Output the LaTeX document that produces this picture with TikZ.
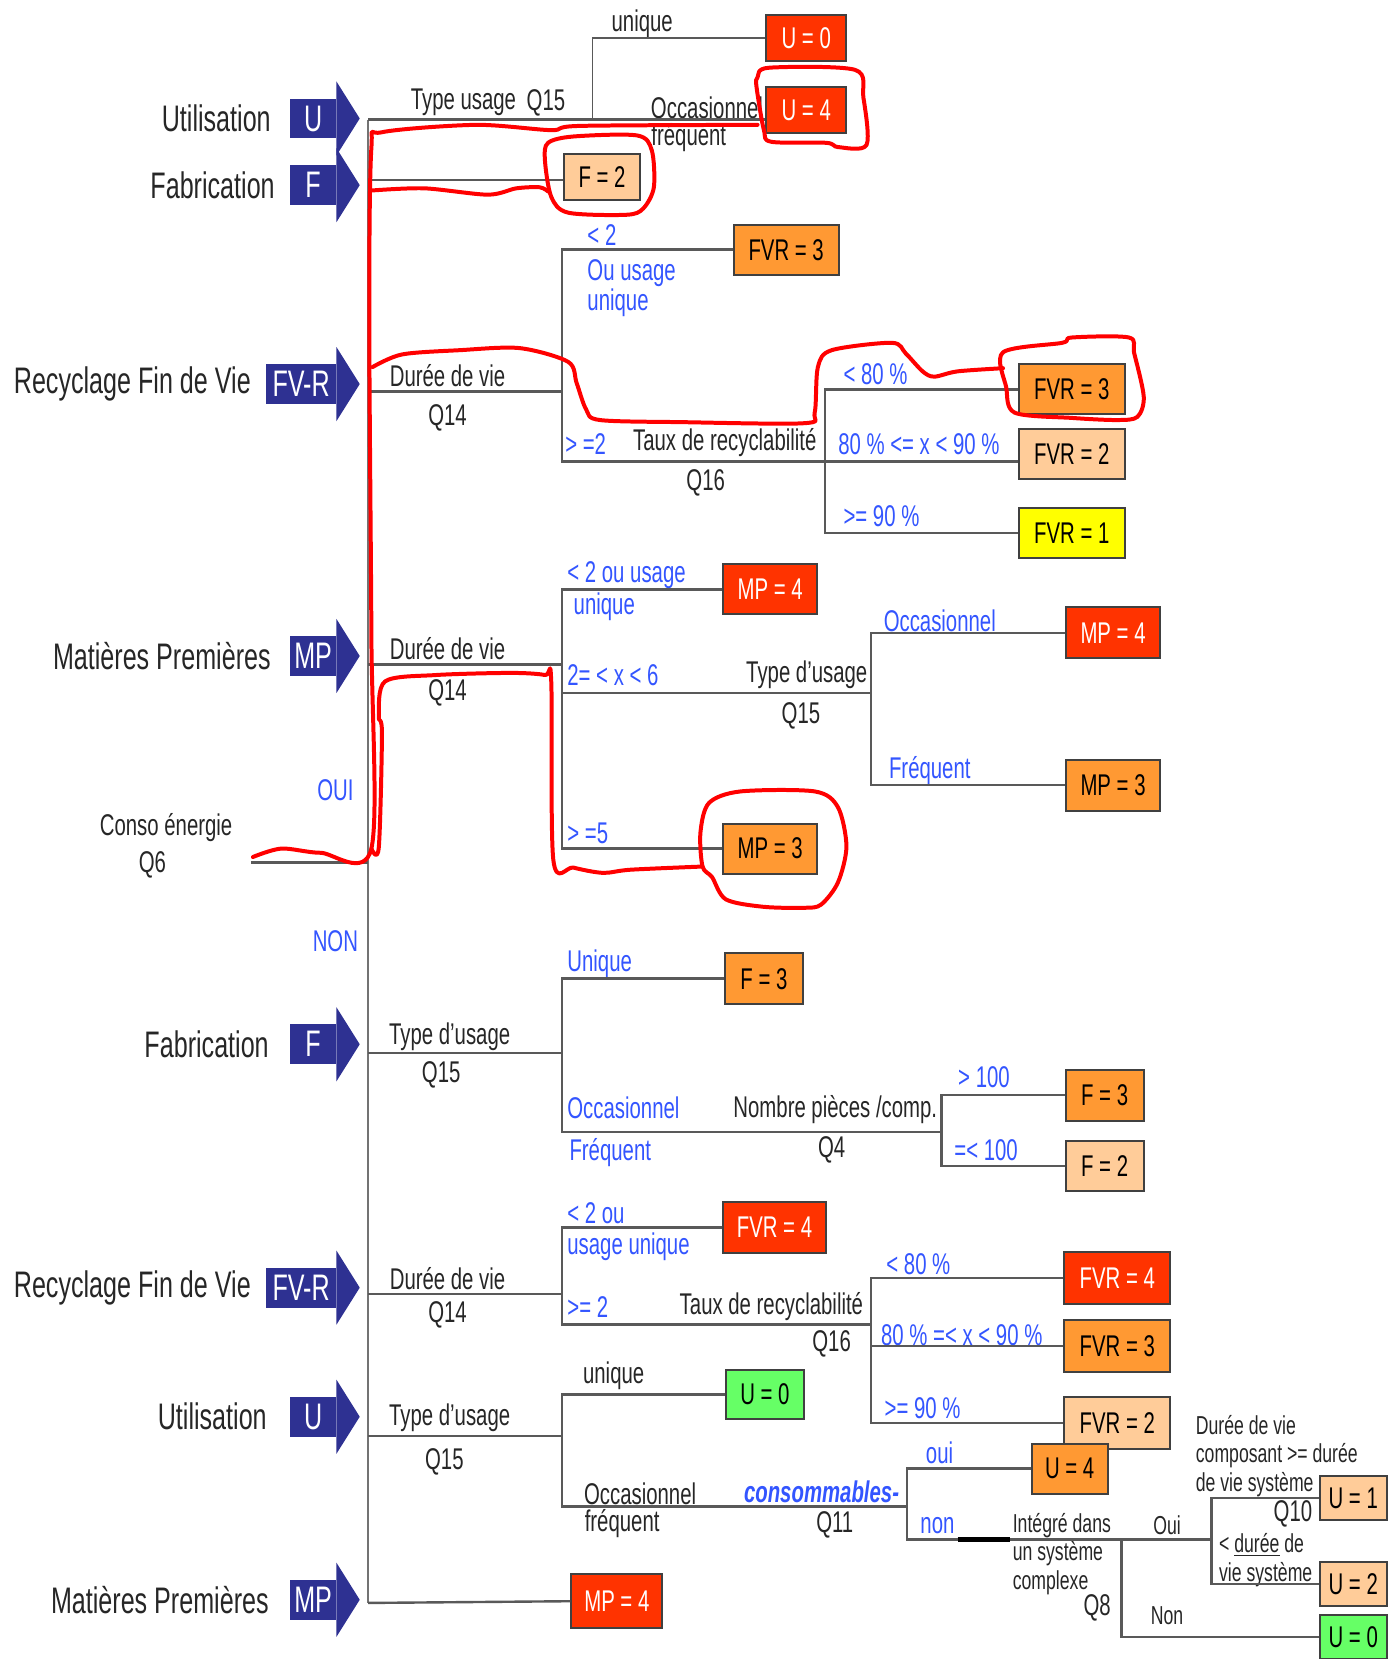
\documentclass[tikz,border=0pt]{standalone}
\usepackage{fontspec}
\setmainfont{Liberation Sans}[FakeStretch=0.68]
\usetikzlibrary{positioning}
\definecolor{arrowblue}{RGB}{46,49,146}
\definecolor{answerblue}{RGB}{51,85,255}
\definecolor{boxred}{RGB}{255,51,0}
\definecolor{boxorange}{RGB}{255,153,51}
\definecolor{boxpeach}{RGB}{255,204,153}
\definecolor{boxyellow}{RGB}{255,255,0}
\definecolor{boxgreen}{RGB}{102,255,102}
\newcommand{\catfont}{\fontsize{18.5}{20}\selectfont}
\newcommand{\qfont}{\fontsize{15}{16}\selectfont}
\newcommand{\smallqfont}{\fontsize{13}{14.3}\selectfont}

\begin{document}
\begin{tikzpicture}[x=0.53pt, y=-0.53pt,
catbody/.style={fill=arrowblue, text=white, font=\catfont, minimum height=20pt, inner sep=0pt},
catlabel/.style={font=\catfont, text=black!85},
question/.style={font=\qfont, text=black!85, inner sep=1pt},
answer/.style={font=\qfont, text=answerblue, inner sep=1pt},
scorebox/.style={draw=black!75, line width=1pt, inner sep=0pt, font=\qfont},
redbox/.style={scorebox, fill=boxred, text=white},
orangebox/.style={scorebox, fill=boxorange},
peachbox/.style={scorebox, fill=boxpeach},
yellowbox/.style={scorebox, fill=boxyellow},
greenbox/.style={scorebox, fill=boxgreen},
branch/.style={draw=black!65, line width=1.2pt},
annot/.style={draw=red, line width=2pt, line cap=round, line join=round},
]
\useasboundingbox (0,0) rectangle (1320,1568);

% category arrows
\node[catbody, minimum width=23pt, anchor=east] (arU1) at (318,112) {U};
\fill[arrowblue] (318,77) -- (340,112) -- (318,147) -- cycle;
\node[catlabel, left=6pt of arU1] (labU1) {Utilisation};
\node[catbody, minimum width=23pt, anchor=east] (arF1) at (318,175) {F};
\fill[arrowblue] (318,140) -- (340,175) -- (318,210) -- cycle;
\node[catlabel, left=4pt of arF1] (labF1) {Fabrication};
\node[catbody, minimum width=35pt, anchor=east] (arR1) at (318,363) {FV-R};
\fill[arrowblue] (318,328) -- (340,363) -- (318,398) -- cycle;
\node[catlabel, left=4pt of arR1] (labR1) {Recyclage Fin de Vie};
\node[catbody, minimum width=23pt, anchor=east] (arM1) at (318,620) {MP};
\fill[arrowblue] (318,585) -- (340,620) -- (318,655) -- cycle;
\node[catlabel, left=6pt of arM1] (labM1) {Matières Premières};
\node[catbody, minimum width=23pt, anchor=east] (arF2) at (318,987) {F};
\fill[arrowblue] (318,952) -- (340,987) -- (318,1022) -- cycle;
\node[catlabel, left=7pt of arF2] (labF2) {Fabrication};
\node[catbody, minimum width=35pt, anchor=east] (arR2) at (318,1217) {FV-R};
\fill[arrowblue] (318,1182) -- (340,1217) -- (318,1252) -- cycle;
\node[catlabel, left=4pt of arR2] (labR2) {Recyclage Fin de Vie};
\node[catbody, minimum width=23pt, anchor=east] (arU2) at (318,1339) {U};
\fill[arrowblue] (318,1304) -- (340,1339) -- (318,1374) -- cycle;
\node[catlabel, left=8pt of arU2] (labU2) {Utilisation};
\node[catbody, minimum width=23pt, anchor=east] (arM2) at (318,1512) {MP};
\fill[arrowblue] (318,1477) -- (340,1512) -- (318,1547) -- cycle;
\node[catlabel, left=7pt of arM2] (labM2) {Matières Premières};

% question and answer texts
\node[question] (q6a) at (157,782) {Conso énergie};
\node[question] (q6b) at (144,817) {Q6};
\node[answer] (oui) at (317,747) {OUI};
\node[answer] (non) at (317,890) {NON};

\node[question] (t1a) at (438,97) {Type usage};
\node[question] (t1b) at (516,97) {Q15};
\node[question] (t1c) at (607,22) {unique};
\node[question, anchor=west] (t1d) at (613,102) {Occasionnel};
\node[question] (t1e) at (651,130) {fréquent};

\node[question] (t3a) at (423,355) {Durée de vie};
\node[question] (t3b) at (423,395) {Q14};
\node[answer, anchor=west] (t3c) at (553,222) {< 2};
\node[answer, anchor=west] (t3d) at (553,258) {Ou usage};
\node[answer, anchor=west] (t3e) at (553,286) {unique};
\node[answer, anchor=west] (t3f) at (532,420) {> =2};
\node[question] (t3g) at (685,418) {Taux de recyclabilité};
\node[question] (t3h) at (667,456) {Q16};
\node[answer, anchor=west] (t3i) at (795,354) {< 80 \%};
\node[answer, anchor=west] (t3j) at (790,420) {80 \% <= x < 90 \%};
\node[answer, anchor=west] (t3k) at (795,488) {>= 90 \%};

\node[question] (t4a) at (423,613) {Durée de vie};
\node[question] (t4b) at (423,655) {Q14};
\node[answer, anchor=west] (t4c) at (534,544) {< 2 ou usage};
\node[answer, anchor=west] (t4d) at (540,573) {unique};
\node[answer, anchor=west] (t4e) at (534,638) {2= < x < 6};
\node[question, anchor=east] (t4f) at (822,638) {Type d'usage};
\node[question] (t4g) at (757,677) {Q15};
\node[answer, anchor=west] (t4h) at (833,587) {Occasionnel};
\node[answer, anchor=west] (t4i) at (838,728) {Fréquent};
\node[answer, anchor=west] (t4j) at (534,788) {> =5};

\node[question] (t5a) at (425,980) {Type d'usage};
\node[question] (t5b) at (417,1016) {Q15};
\node[answer, anchor=west] (t5c) at (534,911) {Unique};
\node[answer, anchor=west] (t5d) at (534,1047) {Occasionnel};
\node[answer, anchor=west] (t5e) at (536,1089) {Fréquent};
\node[question, anchor=east] (t5f) at (888,1049) {Nombre pièces /comp.};
\node[question] (t5g) at (786,1087) {Q4};
\node[answer] (t5h) at (930,1018) {> 100};
\node[answer] (t5i) at (932,1087) {=< 100};

\node[question] (t6a) at (423,1208) {Durée de vie};
\node[question] (t6b) at (423,1243) {Q14};
\node[answer, anchor=west] (t6c) at (534,1147) {< 2 ou};
\node[answer, anchor=west] (t6d) at (534,1178) {usage unique};
\node[answer, anchor=west] (t6e) at (534,1235) {>= 2};
\node[question, anchor=east] (t6f) at (818,1235) {Taux de recyclabilité};
\node[question] (t6g) at (786,1270) {Q16};
\node[answer] (t6h) at (868,1195) {< 80 \%};
\node[answer] (t6i) at (909,1262) {80 \% =< x < 90 \%};
\node[answer] (t6j) at (872,1331) {>= 90 \%};

\node[question] (t7a) at (425,1340) {Type d'usage};
\node[question] (t7b) at (420,1382) {Q15};
\node[question] (t7c) at (580,1300) {unique};
\node[question] (t7d) at (605,1412) {Occasionnel};
\node[question] (t7e) at (588,1440) {fréquent};
\node[answer, anchor=east, font=\qfont\bfseries\itshape] (t7f) at (852,1410) {consommables-};
\node[question] (t7g) at (789,1441) {Q11};
\node[answer] (t7h) at (888,1373) {oui};
\node[answer] (t7i) at (886,1442) {non};
\node[question, font=\smallqfont, align=left, anchor=north west] (t7j) at (955,1428) {Intégré dans\\un système\\complexe};
\node[question] (t7k) at (1037,1520) {Q8};
\node[question, font=\smallqfont] (t7l) at (1103,1442) {Oui};
\node[question, font=\smallqfont] (t7m) at (1103,1527) {Non};
\node[question, font=\smallqfont, align=left, anchor=north west] (t7n) at (1128,1335) {Durée de vie\\composant >= durée\\de vie système};
\node[question] (t7o) at (1222,1431) {Q10};
\node[question, font=\smallqfont, align=left, anchor=north west] (t7p) at (1150,1447) {< \underline{durée} de\\vie système};

% score boxes
\node[redbox, minimum width=40pt, minimum height=23pt] (u0) at (762,36) {U = 0};
\node[redbox, minimum width=40pt, minimum height=23pt] (u4) at (762,104) {U = 4};
\node[peachbox, minimum width=38pt, minimum height=23pt] (f2) at (569,167) {F = 2};
\node[orangebox, minimum width=52.5pt, minimum height=25pt] (fvrA) at (743,236) {FVR = 3};
\node[orangebox, minimum width=53pt, minimum height=25pt] (fvrB) at (1013,368) {FVR = 3};
\node[peachbox, minimum width=53pt, minimum height=25pt] (fvrC) at (1013,429) {FVR = 2};
\node[yellowbox, minimum width=53pt, minimum height=25pt] (fvrD) at (1013,504) {FVR = 1};
\node[redbox, minimum width=47pt, minimum height=25pt] (mpA) at (728,557) {MP = 4};
\node[redbox, minimum width=47pt, minimum height=25.5pt] (mpB) at (1052,598) {MP = 4};
\node[orangebox, minimum width=47pt, minimum height=25.5pt] (mpC) at (1052,742) {MP = 3};
\node[orangebox, minimum width=47pt, minimum height=25pt] (mpD) at (728,802) {MP = 3};
\node[orangebox, minimum width=39pt, minimum height=25.5pt] (fA) at (722,925) {F = 3};
\node[orangebox, minimum width=39pt, minimum height=25.5pt] (fB) at (1044,1035) {F = 3};
\node[peachbox, minimum width=39pt, minimum height=25.5pt] (fC) at (1044,1102) {F = 2};
\node[redbox, minimum width=52pt, minimum height=25.5pt] (fvrE) at (732,1160) {FVR = 4};
\node[redbox, minimum width=53pt, minimum height=26pt] (fvrF) at (1056,1208) {FVR = 4};
\node[orangebox, minimum width=53pt, minimum height=26pt] (fvrG) at (1056,1272) {FVR = 3};
\node[peachbox, minimum width=53pt, minimum height=26pt] (fvrH) at (1056,1345) {FVR = 2};
\node[greenbox, minimum width=39pt, minimum height=25pt] (uA) at (723,1318) {U = 0};
\node[orangebox, minimum width=38pt, minimum height=25pt] (uB) at (1011,1388) {U = 4};
\node[peachbox, minimum width=33.5pt, minimum height=22pt] (uC) at (1279,1416) {U = 1};
\node[peachbox, minimum width=33.5pt, minimum height=22pt] (uD) at (1279,1497) {U = 2};
\node[greenbox, minimum width=33.5pt, minimum height=22pt] (uE) at (1279,1547) {U = 0};
\node[redbox, minimum width=45.5pt, minimum height=27pt] (mpE) at (583,1513) {MP = 4};

% branch points
\coordinate (spinetop) at (348,113);
\coordinate (spinebot) at (348,1515);
\coordinate (q6) at (237,815);
\coordinate (j1) at (560,113);
\coordinate (s2) at (348,170);
\coordinate (s3) at (348,370);
\coordinate (j3) at (531,370);
\coordinate (j3b) at (780,436);
\coordinate (s4) at (348,628);
\coordinate (j4) at (531,628);
\coordinate (j4b) at (823,655);
\coordinate (s5) at (348,995);
\coordinate (j5) at (531,995);
\coordinate (j5b) at (890,1070);
\coordinate (s6) at (348,1223);
\coordinate (j6) at (531,1223);
\coordinate (j6b) at (823,1252);
\coordinate (s7) at (348,1357);
\coordinate (j7) at (531,1357);
\coordinate (j7b) at (857,1424);
\coordinate (j7c) at (1060,1455);
\coordinate (j7d) at (1145,1455);
\coordinate (s8) at (348,1515);

% tree
\draw[branch, line width=0.8pt, draw=black!55] (spinetop) -- (spinebot);
\draw[branch] (q6) -- (q6 -| spinetop);
\draw[branch] (spinetop) -- (j1);
\draw[branch, line width=0.8pt] (j1) |- (u0);
\draw[branch] (j1) -- (u4.west |- j1);
\draw[branch] (s2) -- (f2.west |- s2);
\draw[branch] (s3) -- (j3);
\draw[branch] (j3) |- (fvrA);
\draw[branch] (j3) |- (j3b);
\draw[branch] (j3b) |- (fvrB);
\draw[branch] (j3b) -- (fvrC.west |- j3b);
\draw[branch] (j3b) |- (fvrD);
\draw[branch] (s4) -- (j4);
\draw[branch] (j4) |- (mpA);
\draw[branch] (j4) |- (j4b);
\draw[branch] (j4) |- (mpD);
\draw[branch] (j4b) |- (mpB);
\draw[branch] (j4b) |- (mpC);
\draw[branch] (s5) -- (j5);
\draw[branch] (j5) |- (fA);
\draw[branch] (j5) |- (j5b);
\draw[branch] (j5b) |- (fB);
\draw[branch] (j5b) |- (fC);
\draw[branch] (s6) -- (j6);
\draw[branch] (j6) |- (fvrE);
\draw[branch] (j6) |- (j6b);
\draw[branch] (j6b) |- (fvrF);
\draw[branch] (j6b) |- (fvrG);
\draw[branch] (j6b) |- (fvrH);
\draw[branch] (s7) -- (j7);
\draw[branch] (j7) |- (uA);
\draw[branch] (j7) |- (j7b);
\draw[branch] (j7b) |- (uB);
\draw[branch] (j7b) |- (j7c);
\draw[branch] (j7c) -- (j7d);
\draw[branch] (j7d) |- (uC);
\draw[branch] (j7d) |- (uD);
\draw[branch] (j7c) |- (uE);
\draw[line width=2.5pt] (905,1455) -- (955,1455);
\draw[branch] (s8) -- (mpE);

% red hand marks
\draw[annot] plot[smooth, tension=0.5] coordinates {(239,810) (266,802) (303,806) (351,802) (351,600) (349,300) (351,140) (361,125) (450,118) (521,123) (548,119) (716,118)};
\draw[annot] plot[smooth cycle, tension=0.5] coordinates {(716,73) (727,64) (808,66) (816,92) (819,137) (792,139) (781,135) (729,134) (722,123) (715,82)};
\draw[annot] plot[smooth, tension=0.5] coordinates {(352,180) (401,178) (461,184) (488,178) (510,177) (518,181)};
\draw[annot] plot[smooth cycle, tension=0.5] coordinates {(518,135) (542,129) (602,128) (616,142) (618,177) (608,197) (592,203) (537,201) (521,186) (515,151)};
\draw[annot] plot[smooth, tension=0.5] coordinates {(352,347) (380,335) (434,331) (491,329) (537,342) (545,362) (554,387) (567,397) (645,399) (760,400) (770,390) (773,347) (786,331) (843,324) (856,334) (872,351) (883,356) (905,351) (948,348)};
\draw[annot] plot[smooth cycle, tension=0.5] coordinates {(948,333) (1004,324) (1013,319) (1067,319) (1072,334) (1081,375) (1075,394) (1056,397) (1013,395) (959,390) (951,366)};
\draw[annot] plot[smooth, tension=0.5] coordinates {(351,802) (358,801) (361,693) (358,677) (364,644) (412,638) (483,636) (515,638) (521,644) (523,813) (542,820) (570,825) (596,822) (664,819)};
\draw[annot] plot[smooth cycle, tension=0.5] coordinates {(664,819) (662,787) (670,759) (700,748) (770,748) (792,763) (800,800) (792,834) (776,855) (760,858) (721,857) (686,850) (673,829)};
\end{tikzpicture}
\end{document}
